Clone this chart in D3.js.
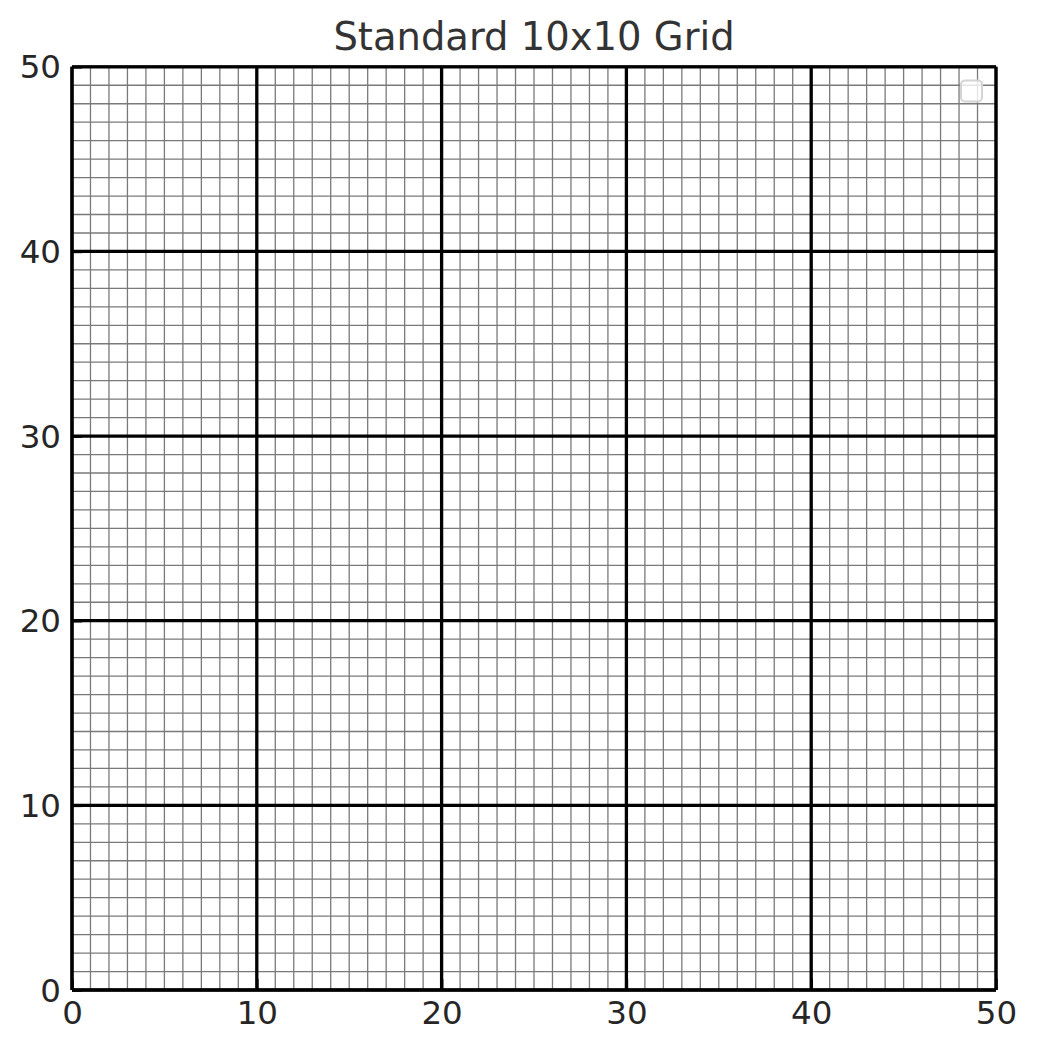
<!DOCTYPE html>
<html>
<head>
<meta charset="utf-8">
<title>Standard 10x10 Grid</title>
<script src="https://cdn.jsdelivr.net/npm/d3@7/dist/d3.min.js"></script>
<style>
    html, body { margin: 0; padding: 0; background: #fff; }
    svg { display: block; }
</style>
</head>
<body>
<div id="chart"></div>
<script>
// chart values
var titleText = "Standard 10x10 Grid";
var xDomain = [0, 50];
var yDomain = [0, 50];
var xTickValues = [0, 10, 20, 30, 40, 50];
var yTickValues = [0, 10, 20, 30, 40, 50];
var xTickLabels = ["0", "10", "20", "30", "40", "50"];
var yTickLabels = ["0", "10", "20", "30", "40", "50"];
var minorCount = 50;   // one line per unit
var majorCount = 5;    // one line per ten units

(function drawGrid (d3) {
    "use strict";
    var width = 1037,
        height = 1053,
        margin = {top: 66.8, right: 41, bottom: 63, left: 72},
        w = width - margin.left - margin.right,
        h = height - margin.top - margin.bottom,
        font = "'DejaVu Sans', 'Liberation Sans', sans-serif",
        svg, g, x, y, xAxis, yAxis;

    svg = d3.select("#chart").append("svg")
        .attr("width", width)
        .attr("height", height);

    g = svg.append("g")
        .attr("transform", "translate(" + margin.left + "," + margin.top + ")");

    x = d3.scaleLinear().domain(xDomain).range([0, w]);
    y = d3.scaleLinear().domain(yDomain).range([h, 0]);

    // minor grid
    var minor = g.append("g").attr("class", "minor");
    minor.selectAll("line.vx").data(x.ticks(minorCount)).enter().append("line")
        .attr("class", "vx")
        .attr("x1", function (d) { return x(d); })
        .attr("x2", function (d) { return x(d); })
        .attr("y1", 0).attr("y2", h);
    minor.selectAll("line.hy").data(y.ticks(minorCount)).enter().append("line")
        .attr("class", "hy")
        .attr("y1", function (d) { return y(d); })
        .attr("y2", function (d) { return y(d); })
        .attr("x1", 0).attr("x2", w);
    minor.selectAll("line")
        .attr("stroke", "#7a7a7a")
        .attr("stroke-width", 1.3);

    // major grid
    var major = g.append("g").attr("class", "major");
    major.selectAll("line.vx").data(x.ticks(majorCount)).enter().append("line")
        .attr("class", "vx")
        .attr("x1", function (d) { return x(d); })
        .attr("x2", function (d) { return x(d); })
        .attr("y1", 0).attr("y2", h);
    major.selectAll("line.hy").data(y.ticks(majorCount)).enter().append("line")
        .attr("class", "hy")
        .attr("y1", function (d) { return y(d); })
        .attr("y2", function (d) { return y(d); })
        .attr("x1", 0).attr("x2", w);
    major.selectAll("line")
        .attr("stroke", "#000")
        .attr("stroke-width", 3.3);

    // spines
    var spines = g.append("g").attr("class", "spines")
        .attr("fill", "none").attr("stroke", "#000");
    spines.append("line").attr("x1", 0).attr("x2", 0).attr("y1", 0).attr("y2", h)
        .attr("stroke-width", 3);
    spines.append("line").attr("x1", 0).attr("x2", w).attr("y1", h).attr("y2", h)
        .attr("stroke-width", 3);
    spines.append("line").attr("x1", 0).attr("x2", w).attr("y1", 0).attr("y2", 0)
        .attr("stroke-width", 2.5);
    spines.append("line").attr("x1", w).attr("x2", w).attr("y1", 0).attr("y2", h)
        .attr("stroke-width", 2.5);

    // axes, ticks pointing inward
    xAxis = d3.axisBottom(x)
        .tickValues(xTickValues)
        .tickFormat(function (d, i) { return xTickLabels[i]; })
        .tickSizeInner(-11)
        .tickSizeOuter(0)
        .tickPadding(11);
    yAxis = d3.axisLeft(y)
        .tickValues(yTickValues)
        .tickFormat(function (d, i) { return yTickLabels[i]; })
        .tickSizeInner(-10)
        .tickSizeOuter(0)
        .tickPadding(11);

    var gx = g.append("g").attr("transform", "translate(0," + h + ")").call(xAxis);
    var gy = g.append("g").call(yAxis);
    [gx, gy].forEach(function (ax) {
        ax.select(".domain").remove();
        ax.selectAll(".tick line").attr("stroke", "#000").attr("stroke-width", 2.5);
        ax.selectAll(".tick text")
            .attr("fill", "#262626")
            .style("font-family", font)
            .style("font-size", "32.5px");
    });
    gy.selectAll(".tick text").attr("dy", "0.34em");

    // empty legend box
    svg.append("rect")
        .attr("x", 961)
        .attr("y", 80.5)
        .attr("width", 21)
        .attr("height", 21)
        .attr("rx", 4)
        .attr("fill", "#fff")
        .attr("fill-opacity", 0.8)
        .attr("stroke", "#d4d4d4")
        .attr("stroke-width", 2);

    // title
    svg.append("text")
        .attr("x", margin.left + w / 2)
        .attr("y", 49.5)
        .attr("text-anchor", "middle")
        .attr("fill", "#333")
        .style("font-family", font)
        .style("font-size", "38.5px")
        .text(titleText);
})(window.d3);
</script>
</body>
</html>
